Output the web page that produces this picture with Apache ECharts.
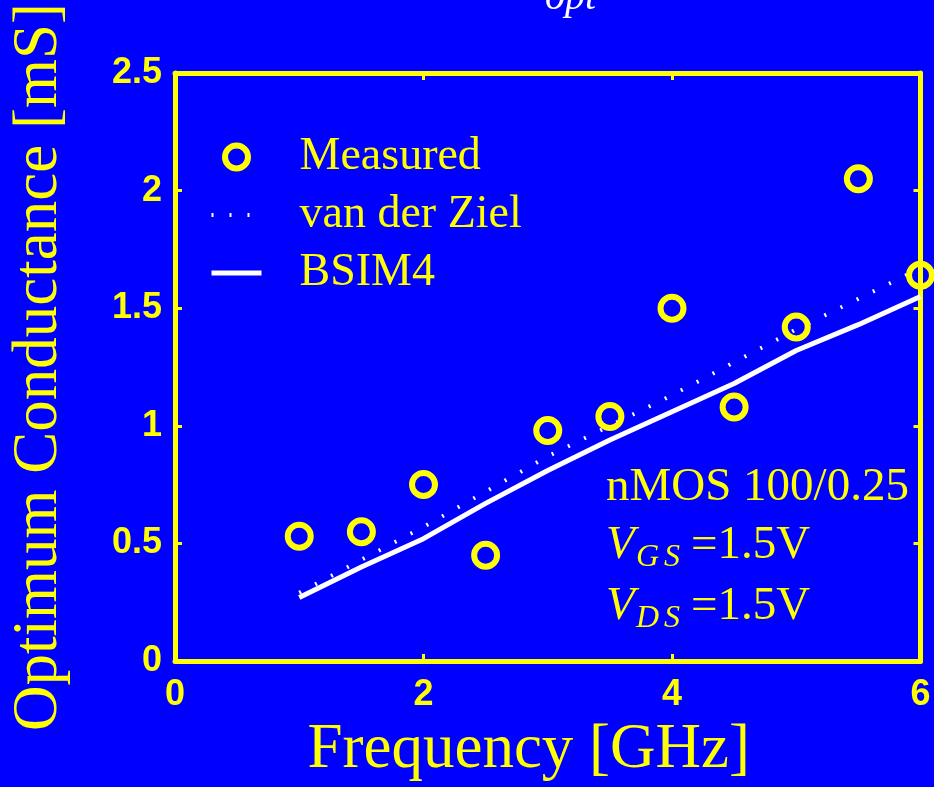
<!DOCTYPE html>
<html>
<head>
<meta charset="utf-8">
<script src="https://cdn.jsdelivr.net/npm/echarts@6/dist/echarts.min.js"></script>
<style>
html,body{margin:0;padding:0;background:#0000FF;}
#chart{width:934px;height:787px;}
</style>
</head>
<body>
<div id="chart"></div>
<script>
// ---- data ----
var frequency = [1, 1.5, 2, 2.5, 3, 3.5, 4, 4.5, 5, 5.5, 6];
var measured = [0.53, 0.55, 0.75, 0.45, 0.98, 1.04, 1.50, 1.08, 1.42, 2.05, 1.64];
var vanDerZiel = [0.29, 0.43, 0.57, 0.72, 0.87, 1.00, 1.13, 1.27, 1.41, 1.54, 1.67];
var bsim4 = [0.27, 0.40, 0.52, 0.67, 0.81, 0.94, 1.06, 1.18, 1.32, 1.43, 1.55];
var xTicks = [0, 2, 4, 6];
var yTicks = [0, 0.5, 1, 1.5, 2, 2.5];

var BLUE = '#0000FF', YELLOW = '#FFFF00', WHITE = '#FFFFFF', CLEAR = 'rgba(0,0,0,0)';
var SERIF = '"Liberation Serif","Times New Roman",serif';
var SANS = '"Liberation Sans",Arial,sans-serif';

function pairs(ys) { return frequency.map(function (f, i) { return [f, ys[i]]; }); }

var chart = echarts.init(document.getElementById('chart'), null, {renderer: 'canvas'});

var baseAxis = {
  axisLine: {show: true, onZero: false, lineStyle: {color: YELLOW, width: 5}},
  axisTick: {show: true, inside: true, length: 7, lineStyle: {color: YELLOW, width: 3}},
  splitLine: {show: false}
};

chart.setOption({
  backgroundColor: BLUE,
  animation: false,
  grid: {left: 173.5, right: 13.5, top: 73, bottom: 125.5, containLabel: false},
  xAxis: [
    Object.assign({}, baseAxis, {
      type: 'value', min: xTicks[0], max: xTicks[xTicks.length - 1], interval: 2,
      position: 'bottom',
      name: 'Frequency [GHz]', nameLocation: 'middle', nameGap: 58,
      nameTextStyle: {color: YELLOW, fontFamily: SERIF, fontSize: 63, padding: [0, 38, 0, 0]},
      axisLabel: {color: YELLOW, fontFamily: SANS, fontWeight: 'bold', fontSize: 36, margin: 16}
    }),
    Object.assign({}, baseAxis, {
      type: 'value', min: xTicks[0], max: xTicks[xTicks.length - 1], interval: 2,
      position: 'top', axisLabel: {show: false}
    })
  ],
  yAxis: [
    Object.assign({}, baseAxis, {
      type: 'value', min: yTicks[0], max: yTicks[yTicks.length - 1], interval: 0.5,
      position: 'left',
      name: 'Optimum Conductance [mS]', nameLocation: 'middle', nameGap: 104,
      nameTextStyle: {color: YELLOW, fontFamily: SERIF, fontSize: 63},
      axisLabel: {color: YELLOW, fontFamily: SANS, fontWeight: 'bold', fontSize: 36, margin: 13}
    }),
    Object.assign({}, baseAxis, {
      type: 'value', min: yTicks[0], max: yTicks[yTicks.length - 1], interval: 0.5,
      position: 'right', axisLabel: {show: false}
    })
  ],
  legend: {
    orient: 'vertical', left: 204, top: 123, itemGap: 0,
    itemWidth: 50, itemHeight: 23,
    textStyle: {color: YELLOW, fontFamily: SERIF, fontSize: 46, lineHeight: 58, padding: [0, 0, 0, 33]},
    data: [
      {name: 'Measured', itemStyle: {color: CLEAR, borderColor: YELLOW, borderWidth: 6, opacity: 1}},
      {name: 'van der Ziel', itemStyle: {color: CLEAR, borderColor: CLEAR, borderWidth: 0},
        lineStyle: {color: WHITE, width: 4, type: [2, 16]}},
      {name: 'BSIM4', itemStyle: {color: CLEAR, borderColor: CLEAR, borderWidth: 0},
        lineStyle: {color: WHITE, width: 5, type: 'solid'}}
    ]
  },
  series: [
    {
      name: 'van der Ziel', type: 'line', data: pairs(vanDerZiel), symbol: 'none',
      itemStyle: {color: WHITE},
      lineStyle: {color: WHITE, width: 4, type: [2, 16]}, z: 2
    },
    {
      name: 'BSIM4', type: 'line', data: pairs(bsim4), symbol: 'none',
      itemStyle: {color: WHITE},
      lineStyle: {color: WHITE, width: 5, type: 'solid'}, z: 3
    },
    {
      name: 'Measured', type: 'scatter', data: pairs(measured), symbol: 'circle', symbolSize: 23,
      itemStyle: {color: CLEAR, borderColor: YELLOW, borderWidth: 6, opacity: 1}, z: 4
    }
  ],
  graphic: [
    {type: 'text', left: 500, top: -60, style: {text: 'G', fill: WHITE, font: 'italic 64px ' + SERIF}},
    {type: 'text', x: 545, y: -2, style: {text: 'opt', fill: WHITE, font: 'italic 40px ' + SERIF, verticalAlign: 'middle'}},
    {type: 'text', x: 606, y: 488, style: {text: 'nMOS 100/0.25', fill: YELLOW, font: '47px ' + SERIF, verticalAlign: 'middle'}},
    {type: 'text', x: 606, y: 546, style: {text: 'V', fill: YELLOW, font: 'italic 47px ' + SERIF, verticalAlign: 'middle'}},
    {type: 'text', x: 636, y: 558, style: {text: 'G', fill: YELLOW, font: 'italic 32px ' + SERIF, verticalAlign: 'middle'}},
    {type: 'text', x: 664, y: 558, style: {text: 'S', fill: YELLOW, font: 'italic 32px ' + SERIF, verticalAlign: 'middle'}},
    {type: 'text', x: 691, y: 546, style: {text: '=1.5V', fill: YELLOW, font: '47px ' + SERIF, verticalAlign: 'middle'}},
    {type: 'text', x: 606, y: 607, style: {text: 'V', fill: YELLOW, font: 'italic 47px ' + SERIF, verticalAlign: 'middle'}},
    {type: 'text', x: 636, y: 619, style: {text: 'D', fill: YELLOW, font: 'italic 32px ' + SERIF, verticalAlign: 'middle'}},
    {type: 'text', x: 664, y: 619, style: {text: 'S', fill: YELLOW, font: 'italic 32px ' + SERIF, verticalAlign: 'middle'}},
    {type: 'text', x: 691, y: 607, style: {text: '=1.5V', fill: YELLOW, font: '47px ' + SERIF, verticalAlign: 'middle'}}
  ]
});
</script>
</body>
</html>
